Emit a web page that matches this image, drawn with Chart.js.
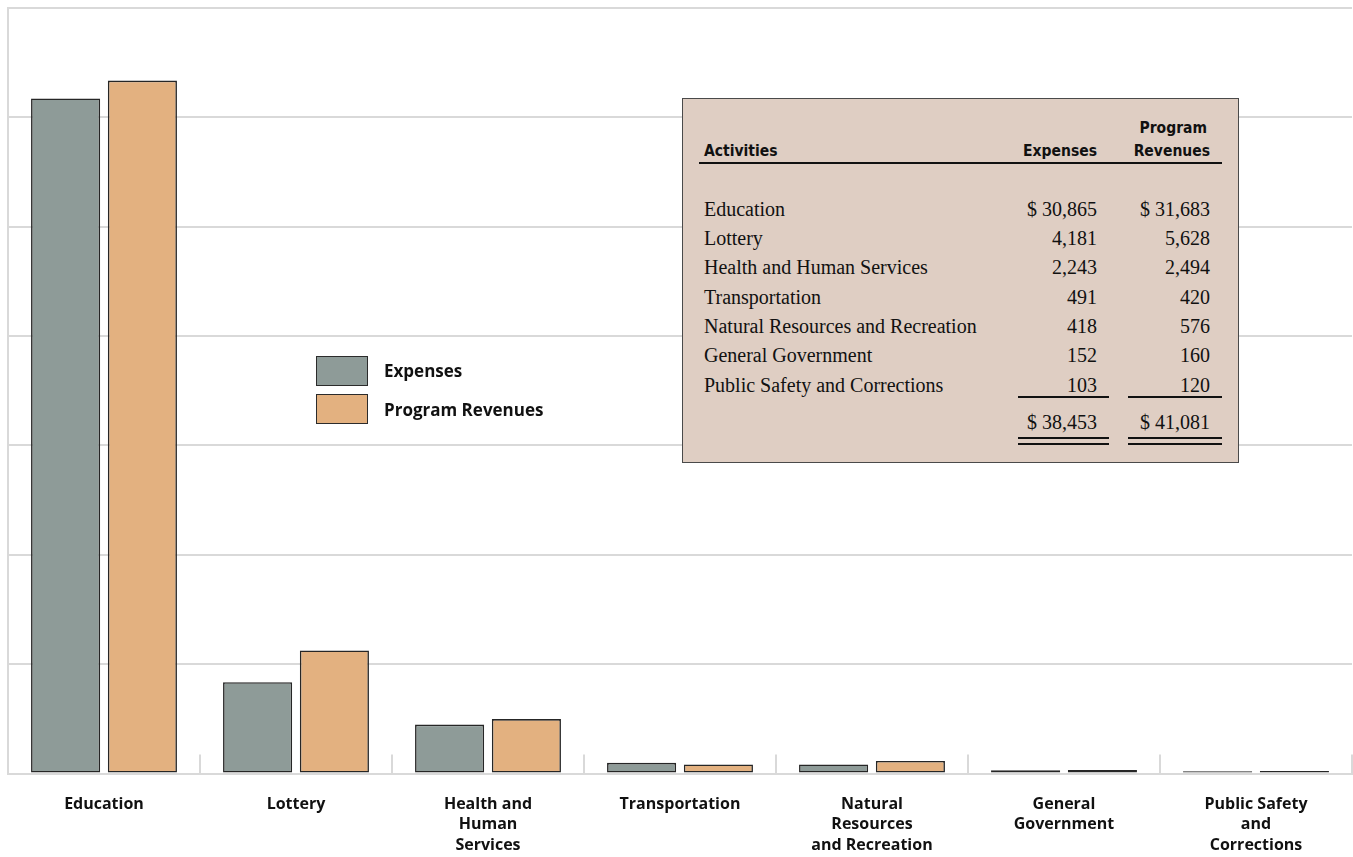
<!DOCTYPE html>
<html><head><meta charset="utf-8">
<script src="https://cdn.jsdelivr.net/npm/chart.js@4/dist/chart.umd.min.js"></script>
<style>
html,body{margin:0;padding:0;background:#fff;}
#wrap{position:relative;width:1353px;height:857px;overflow:hidden;}
#c{position:absolute;left:0;top:0;}
.box{position:absolute;left:682px;top:98px;width:555px;height:363px;background:#dfcec3;border:1.5px solid #4a4a4a;}
.t{position:absolute;white-space:nowrap;line-height:20px;height:20px;}
.hd{font-family:"Liberation Sans Narrow","DejaVu Sans Condensed",sans-serif;font-weight:bold;font-size:15.5px;color:#111;}
.bd{font-family:"Liberation Serif","DejaVu Serif",serif;font-size:20px;color:#111;}
.r{text-align:right;}
.ln{position:absolute;height:2px;background:#111;}
.lg{position:absolute;font-family:"Open Sans",sans-serif;font-weight:700;font-size:17px;color:#111;line-height:20px;white-space:nowrap;}
.sw{position:absolute;width:50px;height:28px;border:1.5px solid #2b2b2b;}
</style>
</head><body>
<div id="wrap">
<canvas id="c" width="1353" height="878"></canvas>
<div id="overlay"></div>
</div>
<script>
const categories = [["Education"],["Lottery"],["Health and","Human","Services"],["Transportation"],["Natural","Resources","and Recreation"],["General","Government"],["Public Safety","and","Corrections"]];
const activities = ["Education","Lottery","Health and Human Services","Transportation","Natural Resources and Recreation","General Government","Public Safety and Corrections"];
const expenses = [30865,4181,2243,491,418,152,103];
const programRevenues = [31683,5628,2494,420,576,160,120];
const seriesNames = ["Expenses","Program Revenues"];
const yMax = 35000;
const yStep = 5000;

const COL_EXP = '#8e9b98';
const COL_REV = '#e3b180';
const GRID = '#d9d9d9';

const fmt = n => n.toLocaleString('en-US');

// table + legend overlay
const ov = document.getElementById('overlay');
let html = '<div class="box"></div>';
html += '<div class="t hd" style="left:704px;top:141px;">Activities</div>';
html += '<div class="t hd r" style="left:1000px;width:97px;top:141px;">Expenses</div>';
html += '<div class="t hd r" style="left:1110px;width:100px;top:118px;"><span style="position:relative;left:-3px;">Program</span></div>';
html += '<div class="t hd r" style="left:1110px;width:100px;top:141px;">Revenues</div>';
html += '<div class="ln" style="left:699px;width:523px;top:162px;"></div>';
const rowY = [209,238,267,297,326,355,385];
activities.forEach((a,i)=>{
  const y = rowY[i]-10;
  html += `<div class="t bd" style="left:704px;top:${y}px;">${a}</div>`;
  html += `<div class="t bd r" style="left:990px;width:107px;top:${y}px;">${i===0?'$ ':''}${fmt(expenses[i])}</div>`;
  html += `<div class="t bd r" style="left:1100px;width:110px;top:${y}px;">${i===0?'$ ':''}${fmt(programRevenues[i])}</div>`;
});
const totE = expenses.reduce((a,b)=>a+b,0);
const totR = programRevenues.reduce((a,b)=>a+b,0);
html += '<div class="ln" style="left:1018px;width:91px;top:396px;"></div>';
html += '<div class="ln" style="left:1128px;width:94px;top:396px;"></div>';
html += `<div class="t bd r" style="left:990px;width:107px;top:412px;">$ ${fmt(totE)}</div>`;
html += `<div class="t bd r" style="left:1100px;width:110px;top:412px;">$ ${fmt(totR)}</div>`;
html += '<div class="ln" style="left:1018px;width:91px;top:437px;"></div>';
html += '<div class="ln" style="left:1018px;width:91px;top:443px;"></div>';
html += '<div class="ln" style="left:1128px;width:94px;top:437px;"></div>';
html += '<div class="ln" style="left:1128px;width:94px;top:443px;"></div>';
// legend
html += `<div class="sw" style="left:316px;top:356px;background:${COL_EXP};"></div>`;
html += `<div class="sw" style="left:316px;top:394px;background:${COL_REV};"></div>`;
html += `<div class="lg" style="left:384px;top:361px;">${seriesNames[0]}</div>`;
html += `<div class="lg" style="left:384px;top:400px;">${seriesNames[1]}</div>`;
ov.innerHTML = html;

const tickMarks = {
  id:'tickMarks',
  beforeDatasetsDraw(chart){
    const x = chart.scales.x, ca = chart.chartArea, ctx = chart.ctx;
    ctx.save();
    ctx.strokeStyle = GRID; ctx.lineWidth = 2;
    for(let i=1;i<=categories.length;i++){
      const px = Math.round(x.getPixelForValue(i-0.5));
      ctx.beginPath(); ctx.moveTo(px, ca.bottom-19); ctx.lineTo(px, ca.bottom); ctx.stroke();
    }
    ctx.restore();
  }
};

new Chart(document.getElementById('c'), {
  type:'bar',
  data:{
    labels:categories,
    datasets:[
      {label:seriesNames[0], data:expenses, backgroundColor:COL_EXP, borderColor:'#262626', borderWidth:1.6, borderSkipped:false},
      {label:seriesNames[1], data:programRevenues, backgroundColor:COL_REV, borderColor:'#262626', borderWidth:1.6, borderSkipped:false}
    ]
  },
  options:{
    responsive:false, animation:false,
    layout:{padding:{left:8, top:8, right:1, bottom:2}},
    plugins:{legend:{display:false}, tooltip:{enabled:false}},
    scales:{
      y:{min:0, max:yMax, ticks:{display:false, stepSize:yStep}, grid:{color:GRID, lineWidth:2, drawTicks:false}, border:{display:true, color:GRID, width:2}},
      x:{grid:{drawOnChartArea:false, drawTicks:false, color:GRID}, border:{display:true, color:GRID, width:2},
         ticks:{color:'#111', padding:20, maxRotation:0, autoSkip:false, font:{family:'Open Sans', weight:'700', size:16, lineHeight:1.3}}}
    }
  },
  plugins:[tickMarks]
});
</script>
</body></html>
